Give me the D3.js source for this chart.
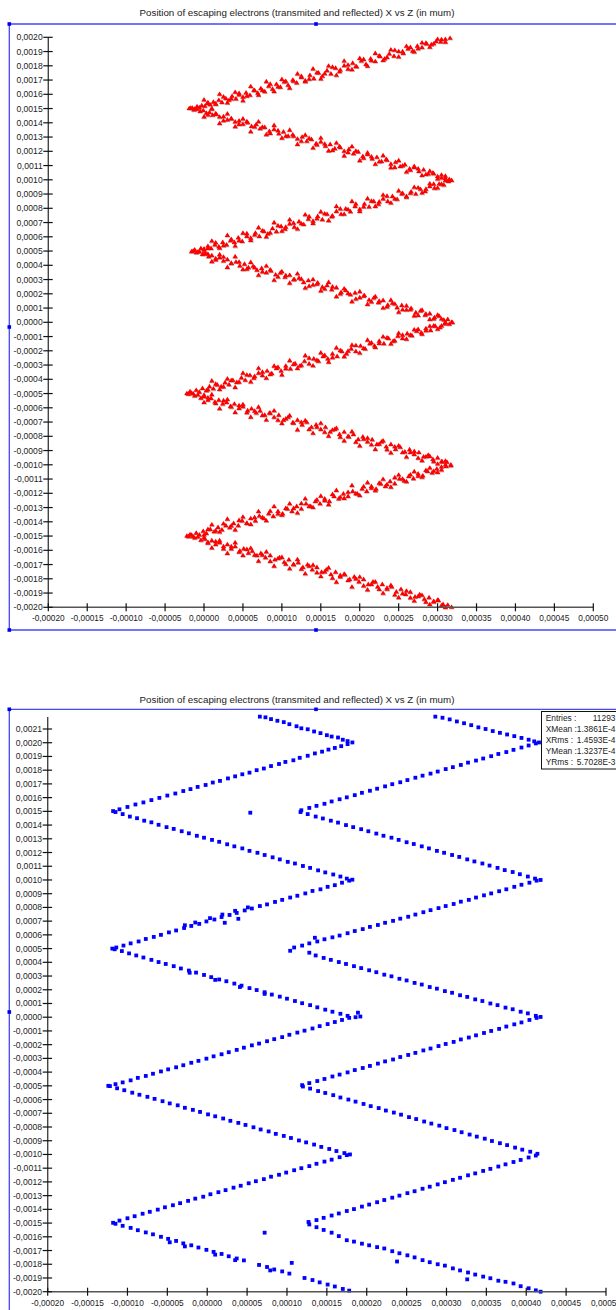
<!DOCTYPE html>
<html><head><meta charset="utf-8">
<script src="https://cdn.jsdelivr.net/npm/d3@7/dist/d3.min.js"></script>
<style>
html,body{margin:0;padding:0;background:#fff;}
svg{display:block;font-family:"Liberation Sans",Arial,sans-serif;}
</style></head><body>
<svg id="chart" width="616" height="1310"></svg>
<script>
// Escaping electron positions, X (horizontal) vs Z (vertical), in µm.
// Point pairs below are [X, Z] in units of 1e-5 µm (X) and 1e-4 µm (Z).
const X_UNIT = 1e-5, Y_UNIT = 1e-4;

const titleText = "Position of escaping electrons (transmited and reflected) X vs Z (in mum)";

const xTicks = [-0.00020, -0.00015, -0.00010, -0.00005, 0.00000, 0.00005, 0.00010, 0.00015,
  0.00020, 0.00025, 0.00030, 0.00035, 0.00040, 0.00045, 0.00050];
const yTicksTop = [-0.0020, -0.0019, -0.0018, -0.0017, -0.0016, -0.0015, -0.0014, -0.0013, -0.0012,
  -0.0011, -0.0010, -0.0009, -0.0008, -0.0007, -0.0006, -0.0005, -0.0004, -0.0003, -0.0002, -0.0001,
  0.0000, 0.0001, 0.0002, 0.0003, 0.0004, 0.0005, 0.0006, 0.0007, 0.0008, 0.0009, 0.0010, 0.0011,
  0.0012, 0.0013, 0.0014, 0.0015, 0.0016, 0.0017, 0.0018, 0.0019, 0.0020];
const yTicksBottom = yTicksTop.concat([0.0021]);

// ---- upper plot: one zigzag (red triangles) ----
const redA = [[-1.9,15.02],[-1.5,15.05],[-1.2,14.98],[-0.9,15.15],[-0.6,15.08],[-0.3,15.22],[0.1,15.18],[0.4,15.35],[0.8,15.28],[1.2,15.47],[1.5,15.33],[1.9,15.6],[2.3,15.45],[2.8,15.72],[3.2,15.6],[3.6,15.88],[4.1,15.7],[4.5,15.98],[5.0,15.82],[5.4,16.12],[5.9,15.95],[6.4,16.3],[6.9,16.1],[7.3,16.42],[7.8,16.2],[8.3,16.58],[8.8,16.38],[9.3,16.72],[9.8,16.52],[10.3,16.88],[10.8,16.65],[11.4,17.02],[11.9,16.82],[12.5,17.2],[13.0,16.98],[13.6,17.35],[14.1,17.12],[14.7,17.52],[15.2,17.28],[15.8,17.68],[16.3,17.45],[16.9,17.85],[17.4,17.6],[18.0,18.02],[18.5,17.78],[19.1,18.2],[19.6,17.95],[20.2,18.35],[20.8,18.12],[21.4,18.5],[22.0,18.32],[22.6,18.68],[23.2,18.5],[23.8,18.85],[24.4,18.7],[25.0,19.02],[25.6,18.88],[26.2,19.2],[26.8,19.05],[27.4,19.4],[28.0,19.3],[28.6,19.55],[29.2,19.5],[29.8,19.72],[30.4,19.7],[31.0,19.88],[31.6,19.95]];
const redA2 = [[0,15.62],[1,15.02],[2,16.02],[3,15.41],[4,16.16],[5,15.56],[6,16.56],[7,15.96],[8,16.91],[9,16.21],[10,17.06],[11,16.45],[12,17.45],[13,16.9],[14,17.8],[15,17.1],[16,18.0],[17,17.35],[18,18.35],[19,17.75],[20,18.54],[21,17.99],[22,18.89],[23,18.39],[24,19.14],[25,18.64],[26,19.39],[27,18.99],[28,19.63],[29,19.33],[30,19.88],[31,19.68]];
const redA3 = [[0.5,15.44],[1.5,15.34],[2.5,15.84],[3.5,15.69],[4.5,16.09],[5.5,15.89],[6.5,16.28],[7.5,16.28],[8.5,16.73],[9.5,16.53],[10.5,16.93],[11.5,16.93],[12.5,17.28],[13.5,17.08],[14.5,17.53],[15.5,17.47],[16.5,17.92],[17.5,17.72],[18.5,18.07],[19.5,17.97],[20.5,18.47],[21.5,18.37],[22.5,18.72],[23.5,18.61],[24.5,19.11],[25.5,19.01],[26.5,19.31],[27.5,19.21],[28.5,19.61],[29.5,19.56],[30.5,19.86]];
const redB = [[-1.7,15.05],[-1.3,14.92],[-0.9,14.98],[-0.5,14.82],[-0.1,14.88],[0.3,14.7],[0.7,14.74],[1.1,14.55],[1.6,14.6],[2.0,14.42],[2.5,14.45],[3.0,14.22],[3.5,14.3],[4.0,14.08],[4.5,14.15],[5.0,13.92],[5.6,14.02],[6.1,13.76],[6.7,13.9],[7.2,13.6],[7.8,13.7],[8.4,13.42],[9.0,13.55],[9.6,13.25],[10.2,13.38],[10.8,13.08],[11.4,13.18],[12.0,12.88],[12.6,13.02],[13.2,12.72],[13.8,12.85],[14.4,12.55],[15.0,12.68],[15.6,12.38],[16.2,12.5],[16.8,12.2],[17.4,12.35],[18.0,12.02],[18.6,12.15],[19.2,11.85],[19.8,11.98],[20.4,11.66],[21.0,11.8],[21.6,11.48],[22.2,11.6],[22.8,11.3],[23.4,11.45],[24.0,11.12],[24.6,11.25],[25.2,10.95],[25.8,11.08],[26.4,10.78],[27.0,10.88],[27.6,10.6],[28.2,10.72],[28.8,10.42],[29.4,10.5],[30.0,10.25],[30.5,10.35],[31.0,10.12],[31.5,10.05]];
const redB2 = [[0,14.43],[1,14.98],[2,13.98],[3,14.64],[4,13.74],[5,14.29],[6,13.39],[7,14.09],[8,13.19],[9,13.84],[10,12.94],[11,13.5],[12,12.5],[13,13.15],[14,12.25],[15,12.95],[16,12.05],[17,12.6],[18,11.7],[19,12.35],[20,11.36],[21,11.91],[22,11.11],[23,11.71],[24,10.86],[25,11.36],[26,10.56],[27,10.96],[28,10.32],[29,10.62],[30,10.07],[31,10.27]];
const redB3 = [[0.5,14.56],[1.5,14.66],[2.5,14.16],[3.5,14.31],[4.5,13.91],[5.5,14.11],[6.5,13.72],[7.5,13.72],[8.5,13.27],[9.5,13.47],[10.5,13.07],[11.5,13.07],[12.5,12.72],[13.5,12.92],[14.5,12.47],[15.5,12.53],[16.5,12.08],[17.5,12.28],[18.5,11.93],[19.5,12.03],[20.5,11.53],[21.5,11.63],[22.5,11.28],[23.5,11.39],[24.5,10.89],[25.5,10.99],[26.5,10.69],[27.5,10.79],[28.5,10.39],[29.5,10.44],[30.5,10.14]];
const redC = [[-1.6,4.98],[-1.2,5.1],[-0.8,4.95],[-0.4,5.2],[0.0,5.08],[0.5,5.35],[0.9,5.2],[1.4,5.45],[1.9,5.32],[2.4,5.62],[2.9,5.45],[3.4,5.75],[3.9,5.62],[4.4,5.95],[4.9,5.7],[5.5,6.05],[6.0,5.92],[6.6,6.28],[7.1,6.05],[7.7,6.4],[8.2,6.22],[8.8,6.6],[9.3,6.38],[9.9,6.75],[10.4,6.55],[11.0,6.92],[11.6,6.7],[12.2,7.08],[12.8,6.88],[13.4,7.25],[14.0,7.12],[14.6,7.45],[15.2,7.22],[15.8,7.6],[16.4,7.42],[17.0,7.8],[17.6,7.6],[18.2,7.98],[18.8,7.78],[19.4,8.15],[20.0,7.95],[20.6,8.32],[21.2,8.12],[21.8,8.5],[22.4,8.3],[23.0,8.68],[23.6,8.5],[24.2,8.85],[24.8,8.65],[25.4,9.02],[26.0,8.85],[26.6,9.18],[27.2,9.02],[27.8,9.35],[28.4,9.2],[29.0,9.55],[29.6,9.42],[30.2,9.72],[30.8,9.65],[31.4,9.9],[31.8,9.98]];
const redC2 = [[0,4.82],[1,5.72],[2,5.22],[3,6.12],[4,5.37],[5,6.27],[6,5.77],[7,6.66],[8,6.01],[9,7.01],[10,6.41],[11,7.21],[12,6.56],[13,7.56],[14,6.96],[15,7.76],[16,7.15],[17,8.15],[18,7.6],[19,8.5],[20,7.8],[21,8.7],[22,8.15],[23,8.95],[24,8.39],[25,9.24],[26,8.79],[27,9.49],[28,9.09],[29,9.74],[30,9.44],[31,9.96]];
const redC3 = [[0.5,5.2],[1.5,5.6],[2.5,5.4],[3.5,5.84],[4.5,5.74],[5.5,6.24],[6.5,6.14],[7.5,6.44],[8.5,6.29],[9.5,6.79],[10.5,6.69],[11.5,6.98],[12.5,6.93],[13.5,7.43],[14.5,7.28],[15.5,7.63],[16.5,7.48],[17.5,7.98],[18.5,7.93],[19.5,8.32],[20.5,8.12],[21.5,8.52],[22.5,8.47],[23.5,8.87],[24.5,8.67],[25.5,9.07],[26.5,9.07],[27.5,9.46],[28.5,9.36],[29.5,9.71],[30.5,9.71]];
const redD = [[-1.4,5.02],[-1.0,4.9],[-0.6,4.98],[-0.2,4.78],[0.2,4.85],[0.6,4.62],[1.0,4.7],[1.5,4.48],[2.0,4.55],[2.5,4.32],[3.0,4.42],[3.5,4.15],[4.1,4.25],[4.6,3.98],[5.2,4.1],[5.7,3.85],[6.3,3.95],[6.8,3.68],[7.4,3.8],[8.0,3.5],[8.6,3.62],[9.2,3.35],[9.8,3.48],[10.4,3.18],[11.0,3.32],[11.6,3.02],[12.2,3.12],[12.8,2.82],[13.4,2.95],[14.0,2.64],[14.6,2.78],[15.2,2.48],[15.8,2.6],[16.4,2.3],[17.0,2.45],[17.6,2.12],[18.2,2.25],[18.8,1.95],[19.4,2.08],[20.0,1.75],[20.6,1.9],[21.2,1.58],[21.8,1.72],[22.4,1.4],[23.0,1.55],[23.6,1.22],[24.2,1.35],[24.8,1.05],[25.4,1.2],[26.0,0.88],[26.6,1.0],[27.2,0.7],[27.8,0.82],[28.4,0.52],[29.0,0.62],[29.6,0.35],[30.2,0.45],[30.8,0.18],[31.3,0.22],[31.8,0.02]];
const redD2 = [[0,5.17],[1,4.27],[2,4.77],[3,3.87],[4,4.62],[5,3.72],[6,4.22],[7,3.32],[8,3.97],[9,2.97],[10,3.57],[11,2.77],[12,3.42],[13,2.42],[14,3.02],[15,2.22],[16,2.82],[17,1.82],[18,2.37],[19,1.47],[20,2.17],[21,1.27],[22,1.82],[23,1.02],[24,1.57],[25,0.72],[26,1.17],[27,0.47],[28,0.87],[29,0.22],[30,0.52],[31,0.0]];
const redD3 = [[0.5,4.8],[1.5,4.4],[2.5,4.6],[3.5,4.15],[4.5,4.25],[5.5,3.75],[6.5,3.85],[7.5,3.55],[8.5,3.7],[9.5,3.2],[10.5,3.3],[11.5,3.0],[12.5,3.05],[13.5,2.55],[14.5,2.7],[15.5,2.35],[16.5,2.5],[17.5,2.0],[18.5,2.05],[19.5,1.65],[20.5,1.85],[21.5,1.45],[22.5,1.5],[23.5,1.1],[24.5,1.3],[25.5,0.9],[26.5,0.9],[27.5,0.5],[28.5,0.6],[29.5,0.25],[30.5,0.25]];
const redE = [[-2.2,-4.98],[-1.8,-4.85],[-1.4,-5.0],[-1.0,-4.75],[-0.6,-4.88],[-0.2,-4.62],[0.3,-4.78],[0.7,-4.5],[1.2,-4.65],[1.7,-4.38],[2.2,-4.5],[2.7,-4.22],[3.2,-4.36],[3.7,-4.05],[4.2,-4.2],[4.8,-3.88],[5.3,-4.05],[5.9,-3.7],[6.4,-3.9],[7.0,-3.55],[7.5,-3.72],[8.1,-3.4],[8.7,-3.58],[9.3,-3.22],[9.9,-3.4],[10.5,-3.05],[11.1,-3.25],[11.7,-2.88],[12.3,-3.05],[12.9,-2.72],[13.5,-2.9],[14.1,-2.55],[14.7,-2.72],[15.3,-2.38],[15.9,-2.55],[16.5,-2.2],[17.1,-2.38],[17.7,-2.02],[18.3,-2.2],[18.9,-1.85],[19.5,-2.02],[20.1,-1.65],[20.7,-1.85],[21.3,-1.48],[21.9,-1.65],[22.5,-1.3],[23.1,-1.48],[23.7,-1.12],[24.3,-1.3],[24.9,-0.95],[25.5,-1.12],[26.1,-0.78],[26.7,-0.92],[27.3,-0.6],[27.9,-0.72],[28.5,-0.42],[29.1,-0.55],[29.7,-0.25],[30.3,-0.35],[30.9,-0.1],[31.5,-0.12],[31.9,0.0]];
const redE2 = [[0,-5.09],[1,-4.09],[2,-4.7],[3,-3.95],[4,-4.55],[5,-3.55],[6,-4.16],[7,-3.21],[8,-3.91],[9,-3.06],[10,-3.67],[11,-2.67],[12,-3.22],[13,-2.32],[14,-3.03],[15,-2.13],[16,-2.78],[17,-1.78],[18,-2.39],[19,-1.59],[20,-2.14],[21,-1.24],[22,-1.75],[23,-1.0],[24,-1.5],[25,-0.75],[26,-1.16],[27,-0.51],[28,-0.81],[29,-0.26],[30,-0.47],[31,-0.02]];
const redE3 = [[0.5,-4.72],[1.5,-4.32],[2.5,-4.52],[3.5,-4.07],[4.5,-4.18],[5.5,-3.68],[6.5,-3.78],[7.5,-3.48],[8.5,-3.64],[9.5,-3.14],[10.5,-3.24],[11.5,-2.94],[12.5,-3.0],[13.5,-2.5],[14.5,-2.65],[15.5,-2.3],[16.5,-2.46],[17.5,-1.96],[18.5,-2.01],[19.5,-1.61],[20.5,-1.82],[21.5,-1.42],[22.5,-1.47],[23.5,-1.07],[24.5,-1.28],[25.5,-0.88],[26.5,-0.88],[27.5,-0.48],[28.5,-0.58],[29.5,-0.24],[30.5,-0.24]];
const redF = [[-2.0,-5.02],[-1.6,-4.95],[-1.2,-5.15],[-0.8,-5.08],[-0.4,-5.3],[0.0,-5.2],[0.5,-5.45],[0.9,-5.32],[1.4,-5.58],[1.9,-5.45],[2.4,-5.72],[2.9,-5.6],[3.4,-5.88],[3.9,-5.72],[4.5,-6.02],[5.0,-5.9],[5.6,-6.18],[6.1,-6.05],[6.7,-6.35],[7.2,-6.2],[7.8,-6.5],[8.4,-6.35],[9.0,-6.65],[9.6,-6.5],[10.2,-6.85],[10.8,-6.65],[11.4,-7.02],[12.0,-6.85],[12.6,-7.18],[13.2,-7.0],[13.8,-7.35],[14.4,-7.18],[15.0,-7.5],[15.6,-7.35],[16.2,-7.68],[16.8,-7.5],[17.4,-7.85],[18.0,-7.68],[18.6,-8.02],[19.2,-7.85],[19.8,-8.2],[20.4,-8.02],[21.0,-8.38],[21.6,-8.22],[22.2,-8.55],[22.8,-8.38],[23.4,-8.72],[24.0,-8.55],[24.6,-8.9],[25.2,-8.75],[25.8,-9.08],[26.4,-8.92],[27.0,-9.25],[27.6,-9.12],[28.2,-9.42],[28.8,-9.3],[29.4,-9.6],[30.0,-9.5],[30.6,-9.78],[31.2,-9.8],[31.7,-9.98]];
const redF2 = [[0,-5.61],[1,-5.06],[2,-6.05],[3,-5.4],[4,-6.3],[5,-5.75],[6,-6.64],[7,-5.94],[8,-6.84],[9,-6.19],[10,-7.08],[11,-6.53],[12,-7.53],[13,-6.88],[14,-7.77],[15,-7.07],[16,-7.97],[17,-7.42],[18,-8.31],[19,-7.66],[20,-8.66],[21,-8.11],[22,-8.9],[23,-8.3],[24,-9.15],[25,-8.65],[26,-9.44],[27,-9.04],[28,-9.69],[29,-9.39],[30,-9.93],[31,-9.73]];
const redF3 = [[0.5,-5.28],[1.5,-5.68],[2.5,-5.48],[3.5,-5.93],[4.5,-5.82],[5.5,-6.32],[6.5,-6.22],[7.5,-6.52],[8.5,-6.36],[9.5,-6.86],[10.5,-6.76],[11.5,-7.06],[12.5,-7.0],[13.5,-7.5],[14.5,-7.35],[15.5,-7.7],[16.5,-7.54],[17.5,-8.04],[18.5,-7.99],[19.5,-8.39],[20.5,-8.18],[21.5,-8.58],[22.5,-8.53],[23.5,-8.93],[24.5,-8.72],[25.5,-9.12],[26.5,-9.12],[27.5,-9.52],[28.5,-9.42],[29.5,-9.76],[30.5,-9.76]];
const redG = [[-2.2,-14.98],[-1.8,-14.88],[-1.4,-15.02],[-1.0,-14.78],[-0.6,-14.9],[-0.1,-14.65],[0.3,-14.8],[0.8,-14.52],[1.3,-14.68],[1.8,-14.38],[2.3,-14.55],[2.8,-14.25],[3.3,-14.4],[3.8,-14.1],[4.4,-14.25],[4.9,-13.92],[5.5,-14.1],[6.0,-13.75],[6.6,-13.92],[7.1,-13.58],[7.7,-13.75],[8.3,-13.42],[8.9,-13.6],[9.5,-13.25],[10.1,-13.42],[10.7,-13.08],[11.3,-13.25],[11.9,-12.9],[12.5,-13.08],[13.1,-12.72],[13.7,-12.9],[14.3,-12.55],[14.9,-12.72],[15.5,-12.38],[16.1,-12.55],[16.7,-12.2],[17.3,-12.38],[17.9,-12.02],[18.5,-12.2],[19.1,-11.85],[19.7,-12.02],[20.3,-11.68],[20.9,-11.85],[21.5,-11.5],[22.1,-11.68],[22.7,-11.32],[23.3,-11.5],[23.9,-11.15],[24.5,-11.3],[25.1,-10.98],[25.7,-11.12],[26.3,-10.8],[26.9,-10.95],[27.5,-10.62],[28.1,-10.75],[28.7,-10.45],[29.3,-10.55],[29.9,-10.28],[30.5,-10.35],[31.1,-10.1],[31.7,-10.05]];
const redG2 = [[0,-15.09],[1,-14.19],[2,-14.7],[3,-13.8],[4,-14.55],[5,-13.65],[6,-14.16],[7,-13.26],[8,-13.91],[9,-12.91],[10,-13.52],[11,-12.72],[12,-13.37],[13,-12.37],[14,-12.98],[15,-12.18],[16,-12.78],[17,-11.78],[18,-12.34],[19,-11.44],[20,-12.14],[21,-11.24],[22,-11.8],[23,-11.0],[24,-11.55],[25,-10.7],[26,-11.16],[27,-10.46],[28,-10.86],[29,-10.21],[30,-10.52],[31,-10.0]];
const redG3 = [[0.5,-14.52],[1.5,-14.62],[2.5,-14.12],[3.5,-14.27],[4.5,-13.88],[5.5,-14.08],[6.5,-13.68],[7.5,-13.68],[8.5,-13.24],[9.5,-13.44],[10.5,-13.04],[11.5,-13.04],[12.5,-12.7],[13.5,-12.9],[14.5,-12.45],[15.5,-12.5],[16.5,-12.06],[17.5,-12.26],[18.5,-11.91],[19.5,-12.01],[20.5,-11.52],[21.5,-11.62],[22.5,-11.27],[23.5,-11.37],[24.5,-10.88],[25.5,-10.98],[26.5,-10.68],[27.5,-10.78],[28.5,-10.38],[29.5,-10.44],[30.5,-10.14]];
const redH = [[-2.0,-15.02],[-1.6,-14.92],[-1.2,-15.12],[-0.8,-15.05],[-0.4,-15.28],[0.1,-15.2],[0.5,-15.42],[1.0,-15.3],[1.5,-15.58],[2.0,-15.45],[2.5,-15.72],[3.0,-15.58],[3.5,-15.88],[4.0,-15.72],[4.6,-16.02],[5.1,-15.88],[5.7,-16.18],[6.2,-16.05],[6.8,-16.35],[7.3,-16.2],[7.9,-16.5],[8.5,-16.35],[9.1,-16.65],[9.7,-16.5],[10.3,-16.82],[10.9,-16.65],[11.5,-17.0],[12.1,-16.85],[12.7,-17.18],[13.3,-17.0],[13.9,-17.35],[14.5,-17.18],[15.1,-17.52],[15.7,-17.35],[16.3,-17.68],[16.9,-17.52],[17.5,-17.85],[18.1,-17.7],[18.7,-18.02],[19.3,-17.85],[19.9,-18.2],[20.5,-18.02],[21.1,-18.38],[21.7,-18.2],[22.3,-18.55],[22.9,-18.38],[23.5,-18.72],[24.1,-18.55],[24.7,-18.9],[25.3,-18.72],[25.9,-19.08],[26.5,-18.92],[27.1,-19.25],[27.7,-19.1],[28.3,-19.42],[28.9,-19.3],[29.5,-19.6],[30.1,-19.5],[30.7,-19.78],[31.3,-19.82],[31.8,-19.98]];
const redH2 = [[0,-14.91],[1,-15.81],[2,-15.3],[3,-16.2],[4,-15.45],[5,-16.35],[6,-15.84],[7,-16.74],[8,-16.09],[9,-17.09],[10,-16.48],[11,-17.28],[12,-16.63],[13,-17.63],[14,-17.02],[15,-17.82],[16,-17.22],[17,-18.22],[18,-17.66],[19,-18.56],[20,-17.86],[21,-18.76],[22,-18.2],[23,-19.0],[24,-18.45],[25,-19.3],[26,-18.84],[27,-19.54],[28,-19.14],[29,-19.79],[30,-19.48],[31,-20.0]];
const redH3 = [[0.5,-15.48],[1.5,-15.38],[2.5,-15.88],[3.5,-15.73],[4.5,-16.12],[5.5,-15.92],[6.5,-16.32],[7.5,-16.32],[8.5,-16.76],[9.5,-16.56],[10.5,-16.96],[11.5,-16.96],[12.5,-17.3],[13.5,-17.1],[14.5,-17.55],[15.5,-17.5],[16.5,-17.94],[17.5,-17.74],[18.5,-18.09],[19.5,-17.99],[20.5,-18.48],[21.5,-18.38],[22.5,-18.73],[23.5,-18.63],[24.5,-19.12],[25.5,-19.02],[26.5,-19.32],[27.5,-19.22],[28.5,-19.62],[29.5,-19.56],[30.5,-19.86]];

// ---- lower plot: two shifted zigzags (blue squares) ----
const blueL0 = [[6.6,21.9],[7.3,21.85],[8.0,21.72],[8.8,21.6],[9.6,21.5],[10.3,21.35],[11.2,21.2],[11.8,21.05],[12.6,20.98],[13.4,20.82],[14.2,20.7],[15.0,20.55],[15.6,20.45],[16.4,20.38],[17.0,20.22],[17.6,20.12],[18.2,20.02]];
const blueL1 = [[17.6,19.9],[16.8,19.75],[16.0,19.62],[15.2,19.5],[14.4,19.35],[13.5,19.22],[12.6,19.05],[11.6,18.9],[10.8,18.72],[9.8,18.6],[9.0,18.45],[8.0,18.3],[7.1,18.12],[6.2,18.0],[5.3,17.82],[4.4,17.7],[3.5,17.55],[2.6,17.4],[1.6,17.22],[0.7,17.1],[-0.2,16.92],[-1.2,16.78],[-2.1,16.62],[-3.0,16.48],[-4.0,16.3],[-5.0,16.15],[-6.0,15.98],[-7.0,15.82],[-8.0,15.65],[-9.0,15.5],[-10.0,15.32],[-11.0,15.15],[-11.8,15.02]];
const blueL2 = [[-11.5,14.95],[-10.6,14.8],[-9.7,14.62],[-8.8,14.5],[-7.9,14.32],[-7.0,14.2],[-6.1,14.02],[-5.1,13.85],[-4.2,13.72],[-3.2,13.55],[-2.3,13.4],[-1.3,13.22],[-0.4,13.08],[0.6,12.92],[1.5,12.78],[2.5,12.6],[3.4,12.45],[4.4,12.3],[5.3,12.12],[6.3,11.98],[7.2,11.82],[8.2,11.65],[9.1,11.5],[10.1,11.32],[11.0,11.2],[12.0,11.02],[12.9,10.88],[13.9,10.7],[14.8,10.55],[15.8,10.4],[16.7,10.25],[17.5,10.1],[18.2,10.02],[5.4,14.9]];
const blueL3 = [[17.8,9.95],[16.9,9.8],[16.0,9.62],[15.1,9.5],[14.2,9.32],[13.2,9.2],[12.3,9.02],[11.3,8.85],[10.4,8.72],[9.4,8.55],[8.5,8.4],[7.5,8.22],[6.6,8.1],[5.6,7.92],[4.7,7.78],[3.7,7.6],[2.8,7.45],[1.8,7.3],[0.9,7.12],[-0.1,6.98],[-1.0,6.8],[-2.0,6.65],[-2.9,6.5],[-3.9,6.32],[-4.8,6.18],[-5.8,6.0],[-6.7,5.85],[-7.7,5.7],[-8.6,5.52],[-9.6,5.38],[-10.5,5.22],[-11.4,5.08],[-11.9,5.0]];
const blueL4 = [[-11.6,4.95],[-10.7,4.82],[-9.8,4.65],[-8.9,4.5],[-8.0,4.35],[-7.0,4.18],[-6.1,4.02],[-5.2,3.88],[-4.2,3.72],[-3.3,3.55],[-2.3,3.4],[-1.4,3.25],[-0.4,3.08],[0.5,2.92],[1.5,2.75],[2.4,2.62],[3.4,2.45],[4.3,2.3],[5.3,2.12],[6.2,1.98],[7.2,1.82],[8.1,1.65],[9.1,1.5],[10.0,1.35],[11.0,1.18],[11.9,1.02],[12.9,0.88],[13.8,0.72],[14.8,0.55],[15.7,0.4],[16.7,0.25],[17.6,0.1],[18.6,0.0],[19.2,0.05]];
const blueL5 = [[17.8,-0.05],[16.9,-0.2],[16.0,-0.35],[15.1,-0.5],[14.1,-0.65],[13.2,-0.82],[12.2,-0.98],[11.3,-1.12],[10.3,-1.28],[9.4,-1.45],[8.4,-1.6],[7.5,-1.75],[6.5,-1.92],[5.6,-2.05],[4.6,-2.22],[3.7,-2.38],[2.7,-2.55],[1.8,-2.7],[0.8,-2.85],[-0.1,-3.02],[-1.1,-3.18],[-2.0,-3.32],[-3.0,-3.5],[-3.9,-3.65],[-4.9,-3.8],[-5.8,-3.95],[-6.8,-4.12],[-7.7,-4.28],[-8.7,-4.42],[-9.6,-4.6],[-10.6,-4.75],[-11.5,-4.88],[-12.4,-5.0]];
const blueL6 = [[-12.2,-5.02],[-11.3,-5.18],[-10.4,-5.32],[-9.4,-5.5],[-8.5,-5.65],[-7.5,-5.8],[-6.6,-5.95],[-5.6,-6.12],[-4.7,-6.28],[-3.7,-6.42],[-2.8,-6.6],[-1.8,-6.75],[-0.9,-6.9],[0.1,-7.08],[1.0,-7.22],[2.0,-7.38],[2.9,-7.55],[3.9,-7.7],[4.8,-7.85],[5.8,-8.02],[6.7,-8.18],[7.7,-8.32],[8.6,-8.5],[9.6,-8.65],[10.5,-8.8],[11.5,-8.98],[12.4,-9.12],[13.4,-9.28],[14.3,-9.45],[15.3,-9.6],[16.2,-9.75],[17.2,-9.9],[17.9,-10.0]];
const blueL7 = [[17.5,-10.05],[16.6,-10.2],[15.6,-10.38],[14.7,-10.52],[13.7,-10.68],[12.8,-10.85],[11.8,-11.0],[10.9,-11.15],[9.9,-11.32],[9.0,-11.48],[8.0,-11.62],[7.1,-11.8],[6.1,-11.95],[5.2,-12.1],[4.2,-12.28],[3.3,-12.42],[2.3,-12.6],[1.4,-12.75],[0.4,-12.9],[-0.5,-13.08],[-1.5,-13.22],[-2.4,-13.38],[-3.4,-13.55],[-4.3,-13.7],[-5.3,-13.85],[-6.2,-14.02],[-7.2,-14.18],[-8.1,-14.32],[-9.1,-14.5],[-10.0,-14.65],[-11.0,-14.82],[-11.8,-14.98]];
const blueL8 = [[-11.5,-15.05],[-10.6,-15.2],[-9.6,-15.35],[-8.7,-15.52],[-7.7,-15.68],[-6.8,-15.82],[-5.8,-16.0],[-4.9,-16.15],[-3.9,-16.3],[-3.0,-16.48],[-2.0,-16.62],[-1.1,-16.78],[-0.1,-16.95],[0.8,-17.1],[1.8,-17.25],[2.7,-17.42],[3.7,-17.58],[4.6,-17.72],[6.5,-18.05],[7.5,-18.2],[8.4,-18.38],[9.4,-18.52],[10.3,-18.68],[12.2,-19.0],[13.2,-19.15],[14.1,-19.32],[15.1,-19.48],[16.0,-19.62],[17.0,-19.8],[17.8,-19.92],[7.2,-15.7],[10.6,-17.9]];
// second row of squares where the lower bands are thicker, plus stray hits
const blueLExtra = [[-2.8,6.7],[-1.5,6.9],[0.35,7.22],[1.9,7.48],[3.5,7.75],[5.1,8.0],[2.2,6.88],[3.9,7.17],[-2.2,3.24],[1.0,2.72],[4.1,2.2],[7.2,1.7],[18.9,0.33],[-4.7,-16.4],[-2.8,-16.7],[1.0,-17.3],[3.5,-17.7],[7.9,-18.45]];
const blueR0 = [[28.6,21.9],[29.5,21.82],[30.4,21.7],[31.3,21.55],[32.2,21.42],[33.1,21.28],[34.0,21.12],[34.9,21.0],[35.8,20.85],[36.7,20.72],[37.6,20.6],[38.5,20.48],[39.4,20.35],[40.3,20.22],[41.0,20.1],[41.6,20.02]];
const blueR1 = [[41.2,19.95],[40.3,19.8],[39.4,19.65],[38.4,19.48],[37.5,19.32],[36.5,19.18],[35.6,19.02],[34.6,18.85],[33.7,18.7],[32.7,18.55],[31.8,18.38],[30.8,18.22],[29.9,18.08],[28.9,17.9],[28.0,17.75],[27.0,17.6],[26.1,17.45],[25.1,17.28],[24.2,17.12],[23.2,16.98],[22.3,16.82],[21.3,16.65],[20.4,16.5],[19.4,16.35],[18.5,16.18],[17.5,16.02],[16.6,15.88],[15.6,15.72],[14.7,15.55],[13.7,15.4],[12.8,15.25],[11.8,15.08]];
const blueR2 = [[11.7,14.95],[12.6,14.8],[13.6,14.62],[14.5,14.48],[15.5,14.32],[16.4,14.18],[17.4,14.0],[18.3,13.85],[19.3,13.7],[20.2,13.55],[21.2,13.38],[22.1,13.22],[23.1,13.08],[24.0,12.92],[25.0,12.75],[25.9,12.62],[26.9,12.45],[27.8,12.3],[28.8,12.12],[29.7,11.98],[30.7,11.82],[31.6,11.68],[32.6,11.5],[33.5,11.35],[34.5,11.2],[35.4,11.05],[36.4,10.88],[37.3,10.72],[38.3,10.58],[39.2,10.42],[40.2,10.25],[41.1,10.1],[41.8,10.0]];
const blueR3 = [[41.3,9.95],[40.4,9.8],[39.4,9.65],[38.5,9.5],[37.5,9.32],[36.6,9.18],[35.6,9.02],[34.7,8.88],[33.7,8.72],[32.8,8.55],[31.8,8.42],[30.9,8.25],[29.9,8.1],[29.0,7.95],[28.0,7.8],[27.1,7.65],[26.1,7.48],[25.2,7.32],[24.2,7.18],[23.3,7.02],[22.3,6.88],[21.4,6.72],[20.4,6.58],[19.5,6.42],[18.5,6.28],[17.6,6.12],[16.6,5.95],[15.7,5.82],[14.7,5.68],[13.8,5.52],[12.8,5.38],[11.9,5.22],[10.9,5.08],[10.4,4.84],[13.5,5.79]];
const blueR4 = [[12.8,4.7],[13.6,4.5],[14.6,4.32],[15.5,4.18],[16.5,4.02],[17.4,3.88],[18.4,3.72],[19.3,3.58],[20.3,3.42],[21.2,3.28],[22.2,3.1],[23.1,2.98],[24.1,2.8],[25.0,2.68],[26.0,2.5],[26.9,2.38],[27.9,2.2],[28.8,2.08],[29.8,1.9],[30.7,1.78],[31.7,1.6],[32.6,1.48],[33.6,1.3],[34.5,1.18],[35.5,1.0],[36.4,0.88],[37.4,0.7],[38.3,0.58],[39.3,0.4],[40.2,0.28],[41.2,0.1],[41.8,0.02]];
const blueR5 = [[41.3,-0.05],[40.4,-0.2],[39.4,-0.38],[38.5,-0.52],[37.5,-0.68],[36.6,-0.85],[35.6,-1.0],[34.7,-1.15],[33.7,-1.32],[32.8,-1.48],[31.8,-1.62],[30.9,-1.8],[29.9,-1.95],[29.0,-2.1],[28.0,-2.28],[27.1,-2.42],[26.1,-2.6],[25.2,-2.75],[24.2,-2.9],[23.3,-3.08],[22.3,-3.22],[21.4,-3.38],[20.4,-3.55],[19.5,-3.7],[18.5,-3.85],[17.6,-4.02],[16.6,-4.18],[15.7,-4.32],[14.7,-4.5],[13.8,-4.65],[12.8,-4.8],[11.9,-4.95]];
const blueR6 = [[12.0,-5.05],[12.9,-5.2],[13.9,-5.38],[14.8,-5.52],[15.8,-5.68],[16.7,-5.85],[17.7,-6.0],[18.6,-6.15],[19.6,-6.32],[20.5,-6.48],[21.5,-6.62],[22.4,-6.8],[23.4,-6.95],[24.3,-7.1],[25.3,-7.28],[26.2,-7.42],[27.2,-7.6],[28.1,-7.75],[29.1,-7.9],[30.0,-8.08],[31.0,-8.22],[31.9,-8.38],[32.9,-8.55],[33.8,-8.7],[34.8,-8.85],[35.7,-9.02],[36.7,-9.18],[37.6,-9.32],[38.6,-9.5],[39.5,-9.65],[40.5,-9.8],[41.4,-9.95]];
const blueR7 = [[41.2,-10.08],[40.3,-10.22],[39.3,-10.4],[38.4,-10.55],[37.4,-10.72],[36.5,-10.88],[35.5,-11.05],[34.6,-11.2],[33.6,-11.38],[32.7,-11.52],[31.7,-11.7],[30.8,-11.85],[29.8,-12.02],[28.9,-12.18],[27.9,-12.35],[27.0,-12.5],[26.0,-12.68],[25.1,-12.82],[24.1,-13.0],[23.2,-13.15],[22.2,-13.32],[21.3,-13.48],[20.3,-13.65],[19.4,-13.8],[18.4,-13.98],[17.5,-14.12],[16.5,-14.3],[15.6,-14.45],[14.6,-14.62],[13.7,-14.78],[12.7,-14.92]];
const blueR8 = [[12.8,-15.1],[13.7,-15.3],[14.6,-15.5],[15.6,-15.7],[16.5,-15.95],[17.5,-16.25],[18.4,-16.35],[19.4,-16.5],[20.3,-16.62],[21.3,-16.75],[22.2,-16.85],[23.2,-17.05],[24.1,-17.2],[25.1,-17.35],[26.0,-17.5],[27.0,-17.7],[27.9,-17.85],[28.9,-18.0],[29.8,-18.1],[30.8,-18.3],[31.7,-18.45],[32.7,-18.6],[33.6,-18.75],[34.6,-18.9],[35.5,-19.02],[36.5,-19.2],[37.4,-19.28],[38.4,-19.4],[39.3,-19.6],[40.3,-19.75],[41.2,-19.9],[41.8,-20.0],[23.8,-17.8],[32.6,-19.1]];

const statLabels = ["Entries :", "XMean :", "XRms :", "YMean :", "YRms :"];
const statValues = ["11293", "1.3861E-4", "1.4593E-4", "1.3237E-4", "5.7028E-3"];

const redPoints = [].concat(redA, redA2, redA3, redB, redB2, redB3, redC, redC2, redC3, redD, redD2, redD3,
  redE, redE2, redE3, redF, redF2, redF3, redG, redG2, redG3, redH, redH2, redH3);
const bluePoints = [].concat(blueL0, blueL1, blueL2, blueL3, blueL4, blueL5, blueL6, blueL7, blueL8, blueLExtra,
  blueR0, blueR1, blueR2, blueR3, blueR4, blueR5, blueR6, blueR7, blueR8);

const locale = d3.formatLocale({decimal: ",", thousands: ".", grouping: [3], currency: ["", ""], minus: "-"});
const fmtX = locale.format(".5f"), fmtY = locale.format(".4f");

const svg = d3.select("#chart");
const TEXT = "#222";
const FRAME = "#4646ff";

function panel(cfg) {
  const g = svg.append("g");
  const x = cfg.x, y = cfg.y;
  const x0 = x(xTicks[0]), y0 = y(-0.0020);

  // title
  g.append("text").attr("x", 297).attr("y", cfg.titleY).attr("text-anchor", "middle")
    .attr("font-size", 9.75).attr("fill", TEXT).text(titleText);

  // selection frame with handles
  g.append("path").attr("fill", "none").attr("stroke", FRAME).attr("stroke-width", 1.3)
    .attr("d", `M630,${cfg.frameTop}H9.3V${cfg.frameBottom}H630`);
  cfg.handles.forEach(h => g.append("rect").attr("x", h[0] - 1.8).attr("y", h[1] - 1.8)
    .attr("width", 3.6).attr("height", 3.6).attr("fill", "#0000e6"));

  // markers
  const pts = g.append("g");
  if (cfg.kind === "triangle") {
    const tri = "M0,-2.6L2.7,1.8L-2.7,1.8Z";
    pts.selectAll("path.sh").data(cfg.points).join("path").attr("class", "sh")
      .attr("d", tri).attr("fill", "#8a8a8a").attr("opacity", 0.5)
      .attr("transform", d => `translate(${x(d[0] * X_UNIT) + 0.4},${y(d[1] * Y_UNIT) + 0.8})`);
    pts.selectAll("path.mk").data(cfg.points).join("path").attr("class", "mk")
      .attr("d", tri).attr("fill", "#ff0000")
      .attr("transform", d => `translate(${x(d[0] * X_UNIT)},${y(d[1] * Y_UNIT)})`);
  } else {
    pts.selectAll("rect").data(cfg.points).join("rect")
      .attr("x", d => x(d[0] * X_UNIT) - 1.9).attr("y", d => y(d[1] * Y_UNIT) - 1.9)
      .attr("width", 3.8).attr("height", 3.8).attr("fill", "#0000ff");
  }

  // axes
  const ax = g.append("g");
  ax.append("line").attr("x1", x0).attr("x2", x0).attr("y1", y(cfg.yAxisTop)).attr("y2", y0)
    .attr("stroke", "#444").attr("stroke-width", 1.4);
  ax.append("line").attr("x1", x0).attr("x2", x(xTicks[xTicks.length - 1])).attr("y1", y0).attr("y2", y0)
    .attr("stroke", "#555").attr("stroke-width", 1.4);
  ax.selectAll("line.yt").data(cfg.yTicks).join("line").attr("class", "yt")
    .attr("x1", x0 - 5).attr("x2", x0 + 4.4).attr("y1", d => y(d)).attr("y2", d => y(d))
    .attr("stroke", "#111").attr("stroke-width", 1.2);
  ax.selectAll("text.yl").data(cfg.yTicks).join("text").attr("class", "yl")
    .attr("x", x0 - 5.6).attr("y", d => y(d) + 3).attr("text-anchor", "end")
    .attr("font-size", 8.6).attr("fill", TEXT).text(d => fmtY(d));
  ax.selectAll("line.xt").data(xTicks).join("line").attr("class", "xt")
    .attr("x1", d => x(d)).attr("x2", d => x(d)).attr("y1", y0 - 4).attr("y2", y0 + 4)
    .attr("stroke", "#111").attr("stroke-width", 1.2);
  ax.selectAll("text.xl").data(xTicks).join("text").attr("class", "xl")
    .attr("x", d => x(d)).attr("y", y0 + 14).attr("text-anchor", "middle")
    .attr("font-size", 8.3).attr("fill", TEXT).text(d => fmtX(d));
  return g;
}

// upper plot
panel({
  x: d3.scaleLinear().domain([-0.00020, 0.00050]).range([48.3, 593.3]),
  y: d3.scaleLinear().domain([-0.0020, 0.0020]).range([607.3, 37.3]),
  yTicks: yTicksTop, yAxisTop: 0.0020,
  titleY: 16.3, frameTop: 24, frameBottom: 630,
  handles: [[9.3, 24], [316, 24], [9.3, 327], [9.3, 630], [316, 630]],
  points: redPoints, kind: "triangle"
});

// lower plot
const lower = panel({
  x: d3.scaleLinear().domain([-0.00020, 0.00050]).range([47.7, 606]),
  y: d3.scaleLinear().domain([-0.0020, 0.0021]).range([1291.7, 729]),
  yTicks: yTicksBottom, yAxisTop: 0.002187,
  titleY: 702.6, frameTop: 709.3, frameBottom: 1330,
  handles: [[9.3, 709.3], [316, 709.3], [9.3, 1012]],
  points: bluePoints, kind: "square"
});

// statistics box: label on the left, value flush right
const box = lower.append("g");
box.append("rect").attr("x", 541.5).attr("y", 711.5).attr("width", 90).attr("height", 57.5)
  .attr("fill", "#fff").attr("stroke", "#111").attr("stroke-width", 1);
statLabels.forEach((lab, i) => {
  const yy = 720.5 + i * 11;
  box.append("text").attr("x", 545.7).attr("y", yy).attr("font-size", 8.4).attr("fill", TEXT).text(lab);
  box.append("text").attr("x", 615.5).attr("y", yy).attr("text-anchor", "end")
    .attr("font-size", 8.4).attr("fill", TEXT).text(statValues[i]);
});
</script></body></html>
